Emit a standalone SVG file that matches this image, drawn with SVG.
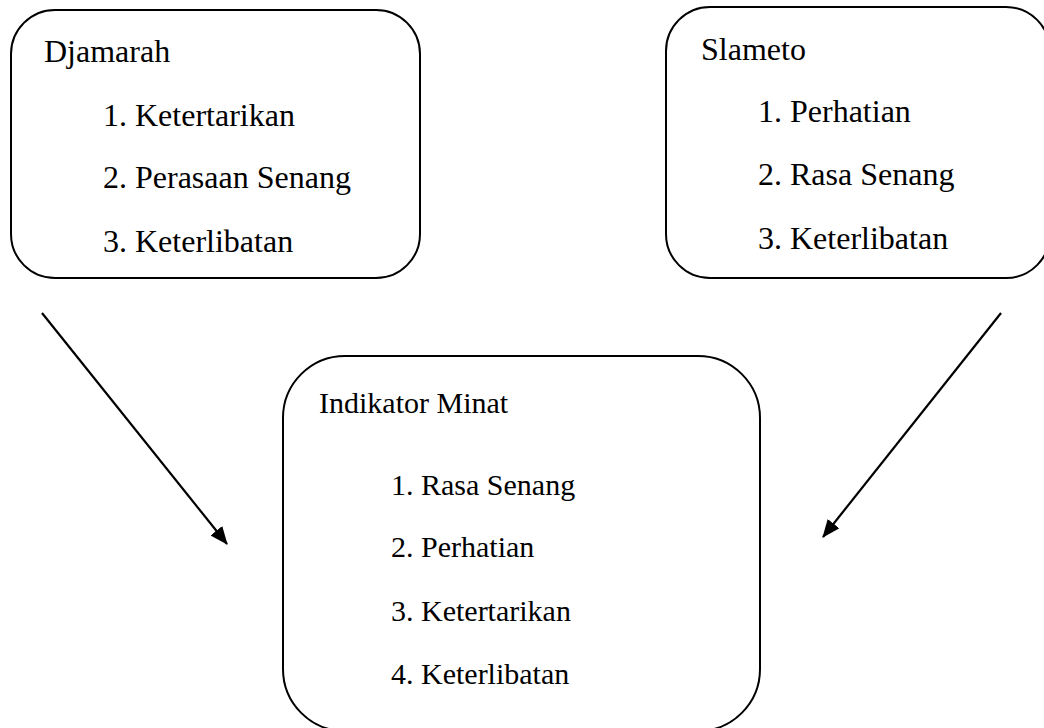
<svg xmlns="http://www.w3.org/2000/svg" width="1044" height="728" viewBox="0 0 1044 728">
<style>
.box{fill:#fff;stroke:#000;stroke-width:2}
.t{font-family:'Liberation Serif','Times New Roman',serif;fill:#000}
.s32{font-size:32px}
.s30{font-size:30px}
.conn{stroke:#000;stroke-width:2.2;fill:none}
</style>
<defs>
<marker id="ah" markerWidth="18" markerHeight="15" refX="17" refY="7.5" orient="auto" markerUnits="userSpaceOnUse">
<path d="M0,0 L18,7.5 L0,15 Z" fill="#000"/>
</marker>
</defs>
<rect width="1044" height="728" fill="#fff"/>
<g id="djamarah">
<rect class="box" x="11" y="10" width="409" height="268" rx="44" ry="44"/>
<text class="t s32" x="44" y="62">Djamarah</text>
<text class="t s32" x="103" y="126">1. Ketertarikan</text>
<text class="t s32" x="103" y="188">2. Perasaan Senang</text>
<text class="t s32" x="103" y="252">3. Keterlibatan</text>
</g>
<g id="slameto">
<rect class="box" x="666" y="7" width="384" height="271" rx="44" ry="44"/>
<text class="t s32" x="701" y="60">Slameto</text>
<text class="t s32" x="758" y="122">1. Perhatian</text>
<text class="t s32" x="758" y="185">2. Rasa Senang</text>
<text class="t s32" x="758" y="249">3. Keterlibatan</text>
</g>
<g id="indikator">
<rect class="box" x="283" y="356" width="477" height="375" rx="62" ry="62"/>
<text class="t s30" x="319" y="413">Indikator Minat</text>
<text class="t s30" x="391" y="495">1. Rasa Senang</text>
<text class="t s30" x="391" y="557">2. Perhatian</text>
<text class="t s30" x="391" y="621">3. Ketertarikan</text>
<text class="t s30" x="391" y="684">4. Keterlibatan</text>
</g>
<g id="connectors">
<line class="conn" x1="42" y1="313" x2="227" y2="544" marker-end="url(#ah)"/>
<line class="conn" x1="1001" y1="313" x2="823" y2="537" marker-end="url(#ah)"/>
</g>
</svg>
